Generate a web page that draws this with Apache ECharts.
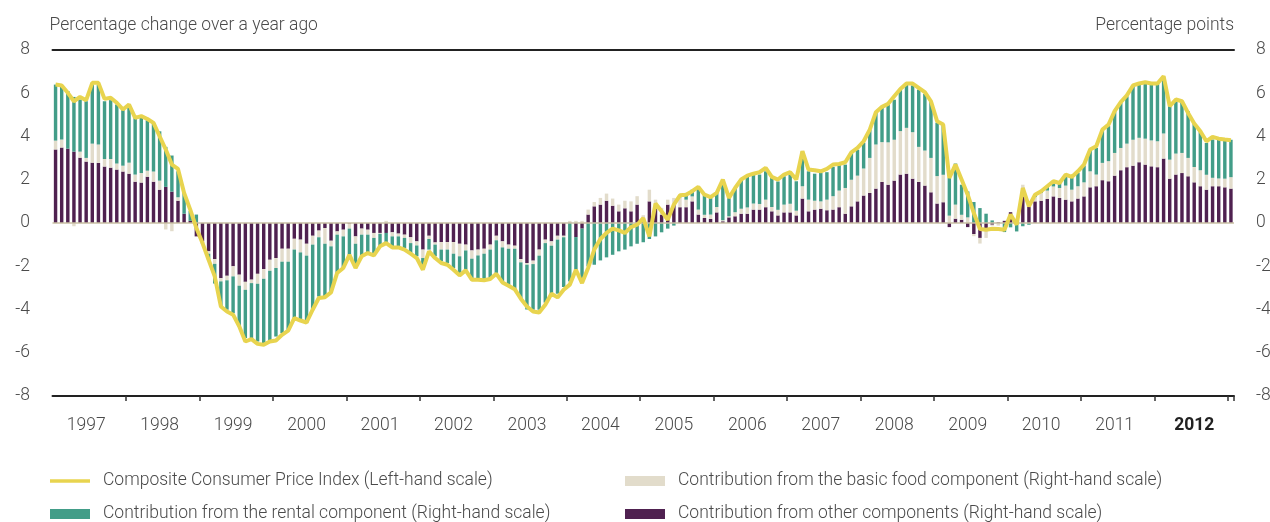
<!DOCTYPE html>
<html>
<head>
<meta charset="utf-8">
<script src="https://cdn.jsdelivr.net/npm/echarts@6/dist/echarts.min.js"></script>
<style>
html,body{margin:0;padding:0;background:#fff;}
#c{width:1270px;height:522px;}
</style>
</head>
<body>
<div id="c"></div>
<script>
// Monthly observations, Jan 1997 onwards (193 months)
const startYear = 1997;
const yearLabels = ['1997','1998','1999','2000','2001','2002','2003','2004','2005','2006','2007','2008','2009','2010','2011','2012'];
const yTicks = [-8,-6,-4,-2,0,2,4,6,8];

const cpi = [
 6.40,6.36,6.02,5.63,5.83,5.68,6.48,6.48,5.74,5.79,5.56,5.25,
 5.48,4.86,4.94,4.81,4.63,4.01,3.40,2.70,2.50,1.39,0.62,-0.23,
 -0.93,-1.70,-2.47,-3.86,-4.09,-4.24,-4.78,-5.48,-5.37,-5.59,-5.63,-5.48,
 -5.43,-5.17,-4.98,-4.40,-4.51,-4.60,-4.01,-3.47,-3.43,-3.21,-2.31,-2.08,
 -1.47,-2.08,-1.54,-1.39,-1.50,-1.08,-0.93,-1.13,-1.13,-1.23,-1.42,-1.62,
 -2.16,-1.31,-1.62,-1.85,-1.93,-2.16,-2.42,-2.19,-2.62,-2.62,-2.65,-2.59,
 -2.35,-2.75,-2.90,-3.06,-3.50,-3.86,-4.09,-4.14,-3.78,-3.27,-3.44,-3.09,
 -2.85,-2.16,-2.78,-2.08,-1.23,-0.74,-0.46,-0.26,-0.34,-0.46,-0.19,-0.08,
 0.23,-0.62,0.90,0.54,0.15,0.85,1.28,1.31,1.47,1.67,1.31,1.20,
 1.39,2.01,1.16,1.62,2.01,2.19,2.28,2.35,2.55,2.13,2.01,2.24,
 2.35,2.01,3.32,2.47,2.44,2.39,2.50,2.70,2.73,2.81,3.27,3.47,
 3.78,4.32,5.12,5.37,5.51,5.86,6.20,6.45,6.45,6.25,6.05,5.63,
 4.71,4.55,2.08,2.70,2.01,1.31,0.46,-0.28,-0.31,-0.27,-0.28,-0.31,
 0.39,-0.08,1.62,0.77,1.31,1.47,1.70,1.93,1.85,2.24,2.13,2.39,
 2.70,3.40,3.55,4.32,4.55,5.17,5.59,5.90,6.36,6.45,6.51,6.45,
 6.45,6.79,5.40,5.71,5.63,5.09,4.60,4.24,3.78,3.98,3.90,3.86,
 3.83
];

const rental = [
 2.59,2.50,2.66,2.53,2.41,2.62,2.73,2.77,2.67,2.72,2.73,2.63,
 2.58,2.62,2.55,2.33,2.25,2.28,1.85,1.67,1.20,0.96,0.45,0.39,
 -0.05,-0.28,-0.91,-1.16,-1.36,-1.70,-1.88,-2.23,-2.62,-2.67,-2.98,-3.27,
 -3.17,-3.30,-3.15,-3.17,-3.19,-3.12,-3.01,-2.74,-2.44,-2.13,-1.77,-1.46,
 -1.21,-1.04,-1.00,-0.85,-0.78,-0.58,-0.47,-0.46,-0.46,-0.47,-0.46,-0.50,
 -0.46,-0.49,-0.54,-0.54,-0.62,-0.66,-0.85,-0.89,-0.97,-1.12,-1.20,-1.31,
 -1.51,-1.65,-1.74,-1.90,-1.70,-2.07,-2.11,-2.50,-2.75,-2.30,-2.50,-2.30,
 -2.70,-1.60,-2.40,-2.00,-1.93,-1.73,-1.59,-1.47,-1.31,-1.23,-1.08,-0.96,
 -0.89,-0.74,-0.62,-0.43,-0.26,-0.12,0.05,0.31,0.31,1.00,0.90,0.85,
 0.70,1.85,0.90,1.12,1.35,1.47,1.42,1.36,1.31,1.34,1.31,1.31,
 1.39,1.36,1.60,1.31,1.25,1.32,1.27,1.36,1.19,1.08,1.23,1.20,
 1.19,1.31,1.47,1.63,1.75,1.85,1.90,2.01,2.16,2.65,2.62,2.62,
 2.47,2.32,1.74,1.90,1.39,1.20,0.97,0.69,0.43,0.12,0.00,-0.42,
 -0.20,-0.39,-0.15,-0.08,0.10,0.08,0.17,0.23,0.23,0.43,0.54,0.62,
 0.77,1.00,1.23,1.51,1.62,1.93,2.08,2.19,2.51,2.51,2.61,2.62,
 2.67,2.58,2.47,2.42,2.39,2.16,2.04,1.85,1.47,1.77,1.81,1.76,
 1.73
];

const food = [
 0.41,0.37,0.00,-0.15,0.28,0.17,0.88,0.85,0.35,0.40,0.28,0.27,
 0.51,0.33,0.44,0.28,0.47,0.42,-0.30,-0.38,0.16,0.00,0.00,0.00,
 -0.05,-0.11,-0.22,-0.15,-0.21,-0.47,-0.51,-0.37,-0.16,-0.46,-0.45,-0.51,
 -0.46,-0.60,-0.60,-0.50,-0.59,-0.55,-0.41,-0.31,-0.73,-0.26,-0.15,-0.31,
 -0.23,-0.34,-0.28,-0.23,-0.23,-0.04,0.10,-0.19,-0.13,-0.15,-0.27,-0.19,
 -0.39,-0.15,-0.10,-0.35,-0.35,-0.54,-0.58,-0.27,-0.38,-0.27,-0.23,-0.23,
 -0.21,-0.28,-0.19,-0.14,-0.15,-0.08,-0.16,-0.28,-0.16,-0.20,-0.18,-0.07,
 0.08,0.10,0.10,0.23,0.20,0.31,0.33,0.33,0.31,0.35,0.46,0.39,
 0.31,0.54,0.31,0.31,0.23,0.31,0.46,0.35,0.23,0.23,0.15,0.20,
 0.25,0.05,0.05,0.19,0.23,0.29,0.28,0.26,0.35,0.20,0.26,0.36,
 0.40,0.22,0.57,0.54,0.41,0.34,0.49,0.62,0.77,1.19,1.23,1.19,
 1.25,1.62,2.04,1.84,1.96,1.89,2.01,2.12,2.15,1.62,1.62,1.59,
 1.27,1.27,0.34,0.65,0.23,0.26,-0.10,-0.26,-0.46,-0.05,-0.12,0.00,
 0.00,0.00,0.54,0.00,0.20,0.36,0.39,0.46,0.46,0.65,0.54,0.57,
 0.65,0.74,0.54,0.80,0.93,1.05,1.03,1.09,1.20,1.13,1.20,1.20,
 1.20,1.16,0.88,0.97,0.93,0.85,0.71,0.74,0.69,0.39,0.36,0.40,
 0.53
];

const other = [
 3.40,3.49,3.44,3.30,3.02,2.84,2.79,2.78,2.61,2.56,2.47,2.38,
 2.28,1.91,1.87,2.14,1.91,1.54,1.67,1.45,1.03,0.43,0.10,-0.62,
 -0.85,-1.31,-1.67,-2.55,-2.44,-2.00,-2.39,-2.72,-2.62,-2.35,-2.13,-1.70,
 -1.62,-1.19,-1.19,-0.73,-0.77,-0.96,-0.59,-0.35,-0.23,-0.82,-0.39,-0.31,
 -0.03,-0.62,-0.26,-0.31,-0.46,-0.46,-0.46,-0.43,-0.49,-0.54,-0.66,-0.85,
 -1.23,-0.59,-0.90,-0.88,-0.88,-0.88,-0.96,-1.00,-1.27,-1.23,-1.19,-1.00,
 -0.59,-0.85,-1.00,-1.05,-1.67,-1.85,-1.74,-1.23,-0.77,-0.85,-0.59,-0.59,
 0.02,-0.65,-0.26,0.39,0.77,0.85,1.03,0.80,0.54,0.68,0.54,0.85,
 0.05,1.00,0.77,0.39,0.85,0.85,0.73,0.73,1.00,0.39,0.23,0.19,
 0.49,0.08,0.26,0.31,0.43,0.43,0.62,0.62,0.73,0.54,0.35,0.49,
 0.49,0.35,1.13,0.54,0.62,0.66,0.59,0.62,0.73,0.43,0.77,1.00,
 1.27,1.39,1.59,1.90,1.77,1.96,2.24,2.28,2.05,1.90,1.73,1.42,
 0.90,0.96,-0.19,0.20,0.15,-0.19,-0.51,-0.69,-0.23,-0.08,0.03,0.10,
 0.50,0.05,1.23,0.77,1.00,1.03,1.11,1.23,1.16,1.08,1.00,1.13,
 1.23,1.65,1.70,1.98,1.93,2.19,2.44,2.58,2.65,2.81,2.70,2.62,
 2.58,2.98,2.05,2.24,2.31,2.16,1.88,1.70,1.54,1.70,1.70,1.65,
 1.59
];

const months = cpi.map((_, i) => {
  const y = startYear + Math.floor(i / 12);
  const m = (i % 12) + 1;
  return y + '-' + (m < 10 ? '0' + m : m);
});

const names = {
  cpi: 'Composite Consumer Price Index (Left-hand scale)',
  food: 'Contribution from the basic food component (Right-hand scale)',
  rental: 'Contribution from the rental component (Right-hand scale)',
  other: 'Contribution from other components (Right-hand scale)'
};
const colors = { cpi:'#e8d44f', rental:'#429d88', food:'#e2dccb', other:'#4f2150' };

const FONT = 'Roboto';
const TXT = '#4a4a4a';
const FS = 17.5;
const lastYear = yearLabels[yearLabels.length - 1];

function labelShown(idx) {
  const yi = Math.floor(idx / 12);
  if (yearLabels[yi] === lastYear) return idx % 12 === 6;
  return idx % 12 === 5;
}

const textBase = { fontFamily: FONT, fontSize: FS, fontWeight: 300, color: TXT };

function legendItem(left, top, name, icon) {
  return {
    left: left, top: top, orient: 'horizontal', padding: 0,
    itemWidth: 40, itemHeight: 10, selectedMode: false,
    textStyle: Object.assign({ padding: [0, 0, 0, 8] }, textBase),
    data: [{ name: name, icon: icon }]
  };
}

const chart = echarts.init(document.getElementById('c'), null, { renderer: 'canvas' });

chart.setOption({
  animation: false,
  backgroundColor: '#fff',
  grid: { left: 52.5, right: 36, top: 50, bottom: 126, containLabel: false, outerBoundsMode: 'none' },
  legend: [
    legendItem(50, 472, names.cpi, 'path://M0 0M40 10M0 3.2H40V6.8H0Z'),
    legendItem(50, 505, names.rental, 'rect'),
    legendItem(625, 472, names.food, 'rect'),
    legendItem(625, 505, names.other, 'rect')
  ],
  xAxis: [
    {
      type: 'category', data: months, boundaryGap: true, position: 'bottom',
      axisLine: { show: true, onZero: false, lineStyle: { color: '#222', width: 2 } },
      axisTick: {
        show: true, length: 5,
        interval: (idx) => idx > 0 && idx < months.length && idx % 12 === 0,
        lineStyle: { color: '#333', width: 1.5 }
      },
      axisLabel: {
        interval: (idx) => labelShown(idx),
        margin: 21,
        fontFamily: FONT, fontSize: FS, fontWeight: 300, color: TXT,
        formatter: (val, idx) => {
          const y = yearLabels[Math.floor(idx / 12)];
          return y === lastYear ? '{b|' + y + '}' : y;
        },
        rich: { b: { fontFamily: FONT, fontSize: FS, fontWeight: 'bold', color: '#222' } }
      },
      splitLine: { show: false }
    },
    {
      type: 'category', data: months, boundaryGap: true, position: 'top',
      axisLine: { show: true, onZero: false, lineStyle: { color: '#222', width: 2 } },
      axisTick: { show: false }, axisLabel: { show: false }, splitLine: { show: false }
    }
  ],
  yAxis: [
    {
      type: 'value', min: yTicks[0], max: yTicks[yTicks.length - 1], interval: 2,
      position: 'left',
      name: 'Percentage change over a year ago', nameLocation: 'end', nameGap: 15,
      nameTextStyle: Object.assign({ align: 'left', padding: [0, 0, 0, -3] }, textBase),
      axisLine: { show: false, onZero: false }, axisTick: { show: false }, splitLine: { show: false },
      axisLabel: Object.assign({ margin: 22.5, align: 'right' }, textBase)
    },
    {
      type: 'value', min: yTicks[0], max: yTicks[yTicks.length - 1], interval: 2,
      position: 'right',
      name: 'Percentage points', nameLocation: 'end', nameGap: 15,
      nameTextStyle: Object.assign({ align: 'right' }, textBase),
      axisLine: { show: false, onZero: false }, axisTick: { show: false }, splitLine: { show: false },
      axisLabel: Object.assign({ margin: 22, align: 'left' }, textBase)
    }
  ],
  series: [
    {
      name: names.other, type: 'bar', stack: 'c', xAxisIndex: 0, yAxisIndex: 1,
      barWidth: '56%', itemStyle: { color: colors.other }, data: other,
      markLine: {
        silent: true, symbol: ['none', 'none'], label: { show: false },
        lineStyle: { color: '#c9bfa3', width: 1.5, type: 'solid' },
        data: [{ yAxis: 0 }]
      }
    },
    {
      name: names.food, type: 'bar', stack: 'c', xAxisIndex: 0, yAxisIndex: 1,
      barWidth: '56%', itemStyle: { color: colors.food }, data: food
    },
    {
      name: names.rental, type: 'bar', stack: 'c', xAxisIndex: 0, yAxisIndex: 1,
      barWidth: '56%', itemStyle: { color: colors.rental }, data: rental
    },
    {
      name: names.cpi, type: 'line', xAxisIndex: 0, yAxisIndex: 0, z: 5,
      symbol: 'none', showSymbol: false,
      lineStyle: { color: colors.cpi, width: 4 },
      itemStyle: { color: colors.cpi },
      data: cpi
    }
  ]
});
</script>
</body>
</html>
